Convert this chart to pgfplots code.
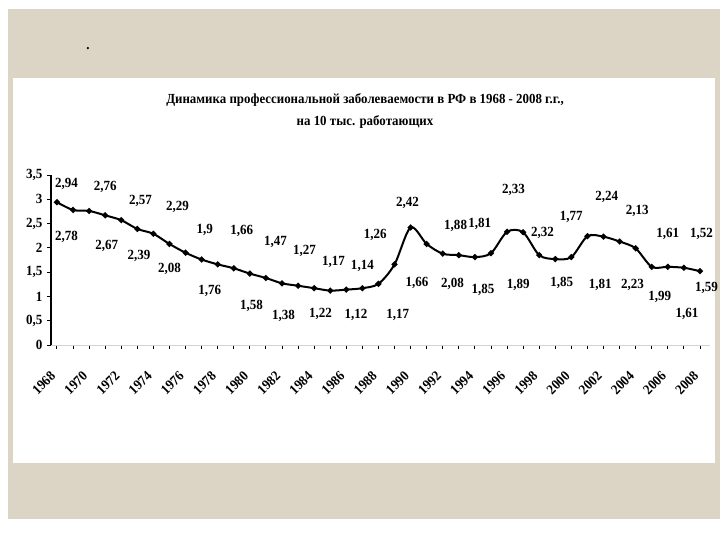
\documentclass[border=0pt]{standalone}
\usepackage{pgfplots}
\pgfplotsset{compat=1.18}
\usepackage{pgfplotstable}
\usepackage{fontspec}
\setmainfont{Liberation Serif}[FakeStretch=0.93]
\definecolor{linen}{RGB}{220,212,196}
\newcommand\lbl{\fontsize{10.5pt}{12pt}\selectfont\bfseries}
\newcommand\ttl{\fontsize{10.4pt}{12pt}\selectfont\bfseries}

% число профзаболеваний на 10 тыс. работающих
\pgfplotstableread{
year val
1968 2.94
1969 2.78
1970 2.76
1971 2.67
1972 2.57
1973 2.39
1974 2.29
1975 2.08
1976 1.90
1977 1.76
1978 1.66
1979 1.58
1980 1.47
1981 1.38
1982 1.27
1983 1.22
1984 1.17
1985 1.12
1986 1.14
1987 1.17
1988 1.26
1989 1.66
1990 2.42
1991 2.08
1992 1.88
1993 1.85
1994 1.81
1995 1.89
1996 2.33
1997 2.32
1998 1.85
1999 1.77
2000 1.81
2001 2.24
2002 2.23
2003 2.13
2004 1.99
2005 1.61
2006 1.61
2007 1.59
2008 1.52
}\rates

% where the value labels sit (x, y) and what they say
\pgfplotstableread{
lx ly v
1968.6 3.31 2.94
1968.6 2.22 2.78
1971.0 3.25 2.76
1971.1 2.04 2.67
1973.2 2.96 2.57
1973.1 1.83 2.39
1975.5 2.84 2.29
1975.0 1.56 2.08
1977.2 2.37 1.9
1977.5 1.11 1.76
1979.5 2.35 1.66
1980.1 0.80 1.58
1981.6 2.12 1.47
1982.1 0.60 1.38
1983.4 1.94 1.27
1984.4 0.64 1.22
1985.2 1.71 1.17
1986.6 0.62 1.12
1987.0 1.63 1.14
1989.2 0.62 1.17
1987.8 2.26 1.26
1990.4 1.28 1.66
1989.8 2.92 2.42
1992.6 1.26 2.08
1992.8 2.45 1.88
1994.5 1.13 1.85
1994.3 2.49 1.81
1996.7 1.24 1.89
1996.4 3.19 2.33
1998.2 2.31 2.32
1999.4 1.28 1.85
2000.0 2.64 1.77
2001.8 1.24 1.81
2002.2 3.05 2.24
2003.8 1.24 2.23
2004.1 2.76 2.13
2005.5 0.99 1.99
2006.0 2.29 1.61
2007.2 0.64 1.61
2008.4 1.17 1.59
2008.1 2.29 1.52
}\marks

\begin{document}
\begin{tikzpicture}
\begin{scope}[x=0.75pt,y=-0.75pt]
\useasboundingbox (0,0) rectangle (720,540);
\fill[white] (0,0) rectangle (720,540);
\fill[linen] (8,9) rectangle (720,519);
\fill[white] (13,78) rectangle (715,463);
\node[font=\ttl] at (365,100) {Динамика профессиональной заболеваемости в РФ в 1968 - 2008 г.г.,};
\node[font=\ttl] at (365,122) {на 10 тыс. работающих};
\node[font=\ttl] at (88,49) {.};
\end{scope}
\begin{axis}[
    at={(38.25pt,-258.75pt)}, anchor=south west,
    scale only axis, width=493.95pt, height=127.5pt,
    xmin=1967.63, xmax=2008.6, ymin=0, ymax=3.5,
    axis lines=left,
    axis line style={-},
    x axis line style={gray!35},
    y axis line style={black, line width=0.8pt},
    clip=false,
    tick align=outside,
    major tick length=3pt, minor tick length=3pt,
    tick style={black, line width=0.7pt},
    xtick={1968,1970,...,2008},
    minor xtick={1969,1971,...,2007},
    xticklabels={1968,1970,1972,1974,1976,1978,1980,1982,1984,1986,1988,
      1990,1992,1994,1996,1998,2000,2002,2004,2006,2008},
    ytick={0,0.5,1,1.5,2,2.5,3,3.5},
    yticklabel style={/pgf/number format/.cd, fixed, use comma, assume math mode=true},
    ticklabel style={font=\lbl},
    xticklabel style={xshift=-5.5pt, yshift=-15pt, rotate=45, anchor=north east, inner sep=0.5pt},
    every node near coord/.style={anchor=center, inner sep=0pt, font=\lbl},
]
\addplot[black, line width=1.5pt, smooth, mark=*, mark size=1.4pt]
    table[x=year, y=val]{\rates};
\addplot[draw=none, mark=none, point meta=\thisrow{v},
    nodes near coords={\pgfmathprintnumber[fixed, precision=2, use comma, assume math mode=true]{\pgfplotspointmeta}}]
    table[x=lx, y=ly]{\marks};
\end{axis}
\end{tikzpicture}
\end{document}
